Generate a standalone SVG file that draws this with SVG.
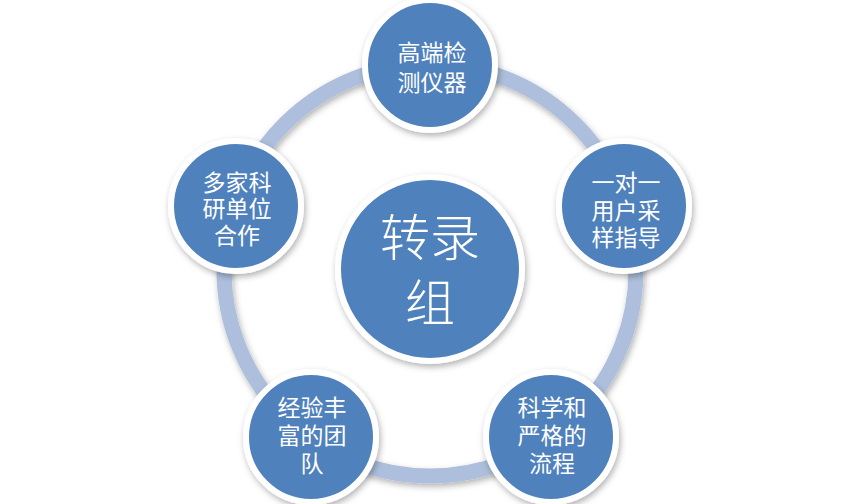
<svg xmlns="http://www.w3.org/2000/svg" width="864" height="504" viewBox="0 0 864 504">
<defs>
<filter id="sh" x="-20%" y="-20%" width="140%" height="140%">
<feDropShadow dx="1.5" dy="3" stdDeviation="3" flood-color="#000" flood-opacity="0.3"/>
</filter>
<style>
.node{fill:#4F81BD;stroke:#FFFFFF;stroke-width:6;filter:url(#sh);}
.t{font-family:"Noto Sans CJK SC","Noto Sans",sans-serif;fill:#FFFFFF;font-size:23px;text-anchor:middle;}
.big{font-size:50px;font-weight:300;}
</style>
</defs>
<rect width="864" height="504" fill="#FFFFFF"/>
<g id="connectors">
<circle cx="430" cy="270" r="206" fill="none" stroke="#ADBFDC" stroke-width="15" filter="url(#sh)"/>
</g>
<g id="center">
<circle class="node" cx="430" cy="269" r="92" stroke-width="7"/>
<text class="t big" x="430" y="256">转录<tspan x="430" dy="65">组</tspan></text>
</g>
<g id="n1">
<circle class="node" cx="430" cy="65" r="65"/>
<text class="t" x="432" y="61">高端检<tspan x="432" dy="30">测仪器</tspan></text>
</g>
<g id="n2">
<circle class="node" cx="624" cy="206" r="65"/>
<text class="t" x="626" y="191">一对一<tspan x="626" dy="28">用户采</tspan><tspan x="626" dy="27">样指导</tspan></text>
</g>
<g id="n3">
<circle class="node" cx="551" cy="437" r="65"/>
<text class="t" x="552" y="416">科学和<tspan x="552" dy="28">严格的</tspan><tspan x="552" dy="28">流程</tspan></text>
</g>
<g id="n4">
<circle class="node" cx="311" cy="437" r="65"/>
<text class="t" x="312" y="416">经验丰<tspan x="312" dy="28">富的团</tspan><tspan x="312" dy="28">队</tspan></text>
</g>
<g id="n5">
<circle class="node" cx="236" cy="206" r="65"/>
<text class="t" x="237" y="191">多家科<tspan x="237" dy="26">研单位</tspan><tspan x="237" dy="27">合作</tspan></text>
</g>
</svg>
